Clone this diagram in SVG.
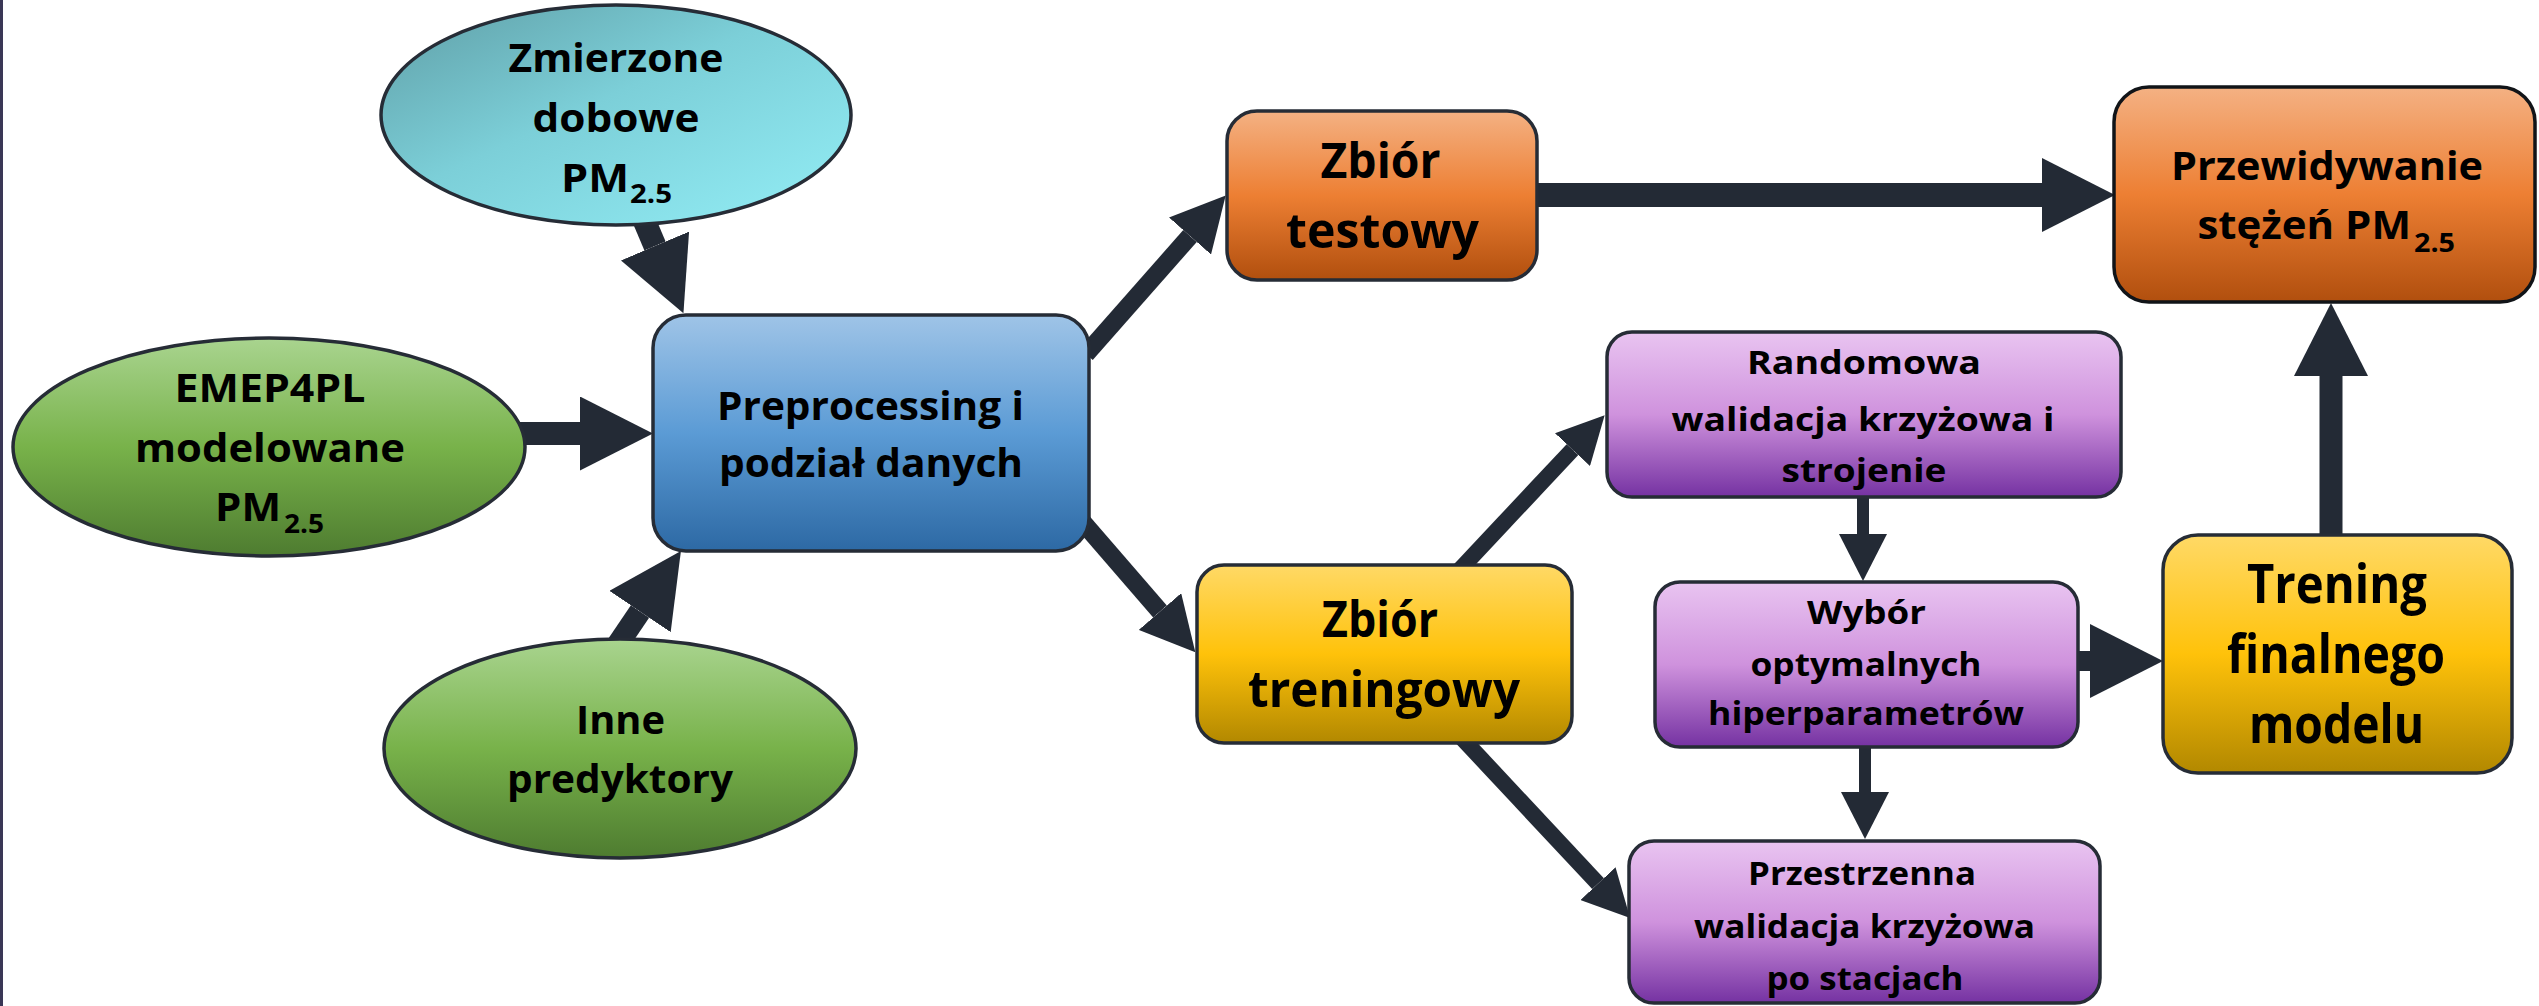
<svg xmlns="http://www.w3.org/2000/svg" width="2539" height="1006" viewBox="0 0 2539 1006">
<defs>
<style>
.t{font-family:"Open Sans","Liberation Sans",sans-serif;font-weight:700;fill:#000;text-anchor:middle}
.s{text-anchor:start}
.nd{stroke:#262c36;stroke-width:3.5}
.cn{stroke:#232a35;fill:none}
</style>
<linearGradient id="gCyan" x1="0" y1="0" x2="1" y2="1">
<stop offset="0" stop-color="#5f9ea6"/><stop offset="0.45" stop-color="#7ccfd8"/><stop offset="1" stop-color="#93eef6"/>
</linearGradient>
<linearGradient id="gGreen" x1="0" y1="0" x2="0" y2="1">
<stop offset="0" stop-color="#a9d48f"/><stop offset="0.5" stop-color="#78b24a"/><stop offset="1" stop-color="#4e7c30"/>
</linearGradient>
<linearGradient id="gBlue" x1="0" y1="0" x2="0" y2="1">
<stop offset="0" stop-color="#9fc4e7"/><stop offset="0.5" stop-color="#5b9bd5"/><stop offset="1" stop-color="#2d69a4"/>
</linearGradient>
<linearGradient id="gOrange" x1="0" y1="0" x2="0" y2="1">
<stop offset="0" stop-color="#f4b183"/><stop offset="0.5" stop-color="#ed7f33"/><stop offset="1" stop-color="#b14f0e"/>
</linearGradient>
<linearGradient id="gYellow" x1="0" y1="0" x2="0" y2="1">
<stop offset="0" stop-color="#ffd966"/><stop offset="0.5" stop-color="#ffc20a"/><stop offset="1" stop-color="#b28800"/>
</linearGradient>
<linearGradient id="gPurple" x1="0" y1="0" x2="0" y2="1">
<stop offset="0" stop-color="#e9c4f1"/><stop offset="0.5" stop-color="#cf92dd"/><stop offset="1" stop-color="#7532a2"/>
</linearGradient>
<marker id="hBig" markerUnits="userSpaceOnUse" viewBox="0 -37 73 74" markerWidth="73" markerHeight="74" refX="0" refY="0" orient="auto">
<path d="M0,-37 L73,0 L0,37 z" fill="#232a35"/>
</marker>
<marker id="hMid" markerUnits="userSpaceOnUse" viewBox="0 -28 54 56" markerWidth="54" markerHeight="56" refX="0" refY="0" orient="auto">
<path d="M0,-28 L54,0 L0,28 z" fill="#232a35"/>
</marker>
<marker id="hSmall" markerUnits="userSpaceOnUse" viewBox="0 -24 47 48" markerWidth="47" markerHeight="48" refX="0" refY="0" orient="auto">
<path d="M0,-24 L47,0 L0,24 z" fill="#232a35"/>
</marker>
</defs>
<rect x="0" y="0" width="2539" height="1006" fill="#ffffff"/>
<line x1="1.5" y1="0" x2="1.5" y2="1006" stroke="#3a3756" stroke-width="3"/>

<g id="connectors">
<line class="cn" x1="644" y1="220" x2="655" y2="246" stroke-width="23" marker-end="url(#hBig)"/>
<line class="cn" x1="518" y1="433.5" x2="580" y2="433.5" stroke-width="23" marker-end="url(#hBig)"/>
<line class="cn" x1="618" y1="644" x2="640" y2="611.5" stroke-width="22" marker-end="url(#hBig)"/>
<line class="cn" x1="1086" y1="354" x2="1190" y2="236" stroke-width="18" marker-end="url(#hMid)"/>
<line class="cn" x1="1080" y1="519" x2="1160" y2="611.5" stroke-width="18" marker-end="url(#hMid)"/>
<line class="cn" x1="1533" y1="195" x2="2042" y2="195" stroke-width="24" marker-end="url(#hBig)"/>
<line class="cn" x1="1460" y1="569.5" x2="1572.5" y2="449.6" stroke-width="16" marker-end="url(#hSmall)"/>
<line class="cn" x1="1460" y1="736" x2="1598" y2="883.6" stroke-width="16" marker-end="url(#hSmall)"/>
<line class="cn" x1="1863" y1="495" x2="1863" y2="534" stroke-width="12" marker-end="url(#hSmall)"/>
<line class="cn" x1="1865" y1="745" x2="1865" y2="792" stroke-width="12" marker-end="url(#hSmall)"/>
<line class="cn" x1="2074" y1="661" x2="2090" y2="661" stroke-width="20" marker-end="url(#hBig)"/>
<line class="cn" x1="2331" y1="538" x2="2331" y2="376" stroke-width="23" marker-end="url(#hBig)"/>
</g>

<g id="n-zmierzone">
<ellipse class="nd" cx="616" cy="115" rx="235" ry="110" fill="url(#gCyan)"/>
<text class="t" x="616" y="72" font-size="40" textLength="215" lengthAdjust="spacingAndGlyphs">Zmierzone</text>
<text class="t" x="616" y="132" font-size="40" textLength="167" lengthAdjust="spacingAndGlyphs">dobowe</text>
<text class="t s" x="561" y="192" font-size="40" textLength="68" lengthAdjust="spacingAndGlyphs">PM</text>
<text class="t s" x="630" y="203" font-size="27" textLength="42" lengthAdjust="spacingAndGlyphs">2.5</text>
</g>

<g id="n-emep">
<ellipse class="nd" cx="269" cy="447" rx="256" ry="109" fill="url(#gGreen)"/>
<text class="t" x="270" y="402" font-size="40" textLength="191" lengthAdjust="spacingAndGlyphs">EMEP4PL</text>
<text class="t" x="270" y="462" font-size="40" textLength="270" lengthAdjust="spacingAndGlyphs">modelowane</text>
<text class="t s" x="215" y="521" font-size="40" textLength="66" lengthAdjust="spacingAndGlyphs">PM</text>
<text class="t s" x="284" y="533" font-size="27" textLength="40" lengthAdjust="spacingAndGlyphs">2.5</text>
</g>

<g id="n-inne">
<ellipse class="nd" cx="620" cy="748.5" rx="236" ry="109.5" fill="url(#gGreen)"/>
<text class="t" x="620.5" y="734" font-size="40" textLength="89" lengthAdjust="spacingAndGlyphs">Inne</text>
<text class="t" x="620" y="793" font-size="40" textLength="226" lengthAdjust="spacingAndGlyphs">predyktory</text>
</g>

<g id="n-preprocessing">
<rect class="nd" x="653" y="315" width="436" height="236" rx="33" fill="url(#gBlue)"/>
<text class="t" x="870.5" y="420" font-size="40" textLength="307" lengthAdjust="spacingAndGlyphs">Preprocessing i</text>
<text class="t" x="871" y="477" font-size="40" textLength="304" lengthAdjust="spacingAndGlyphs">podział danych</text>
</g>

<g id="n-testowy">
<rect class="nd" x="1227" y="111" width="310" height="169" rx="30" fill="url(#gOrange)"/>
<text class="t" x="1380.5" y="178" font-size="49" textLength="120" lengthAdjust="spacingAndGlyphs">Zbiór</text>
<text class="t" x="1382.5" y="248" font-size="49" textLength="193" lengthAdjust="spacingAndGlyphs">testowy</text>
</g>

<g id="n-przewidywanie">
<rect x="2114" y="87" width="421" height="215" rx="35" fill="url(#gOrange)" stroke="#111418" stroke-width="3.5"/>
<text class="t" x="2327" y="180" font-size="39" textLength="312" lengthAdjust="spacingAndGlyphs">Przewidywanie</text>
<text class="t s" x="2197.5" y="239" font-size="39" textLength="213.5" lengthAdjust="spacingAndGlyphs">stężeń PM</text>
<text class="t s" x="2414" y="252" font-size="26" textLength="41" lengthAdjust="spacingAndGlyphs">2.5</text>
</g>

<g id="n-treningowy">
<rect class="nd" x="1197" y="565" width="375" height="178" rx="27" fill="url(#gYellow)"/>
<text class="t" x="1380" y="637" font-size="51" textLength="116" lengthAdjust="spacingAndGlyphs">Zbiór</text>
<text class="t" x="1384" y="707" font-size="51" textLength="272" lengthAdjust="spacingAndGlyphs">treningowy</text>
</g>

<g id="n-randomowa">
<rect class="nd" x="1607" y="332" width="514" height="165" rx="25" fill="url(#gPurple)"/>
<text class="t" x="1864" y="374" font-size="33" textLength="234" lengthAdjust="spacingAndGlyphs">Randomowa</text>
<text class="t" x="1863" y="431" font-size="33" textLength="383" lengthAdjust="spacingAndGlyphs">walidacja krzyżowa i</text>
<text class="t" x="1864" y="482" font-size="33" textLength="165" lengthAdjust="spacingAndGlyphs">strojenie</text>
</g>

<g id="n-wybor">
<rect class="nd" x="1655" y="582" width="423" height="165" rx="25" fill="url(#gPurple)"/>
<text class="t" x="1866.5" y="624" font-size="33" textLength="119" lengthAdjust="spacingAndGlyphs">Wybór</text>
<text class="t" x="1866" y="676" font-size="33" textLength="231" lengthAdjust="spacingAndGlyphs">optymalnych</text>
<text class="t" x="1866" y="725" font-size="33" textLength="316" lengthAdjust="spacingAndGlyphs">hiperparametrów</text>
</g>

<g id="n-przestrzenna">
<rect class="nd" x="1629" y="841" width="471" height="162" rx="25" fill="url(#gPurple)"/>
<text class="t" x="1862" y="885" font-size="33" textLength="228" lengthAdjust="spacingAndGlyphs">Przestrzenna</text>
<text class="t" x="1864.5" y="938" font-size="33" textLength="341" lengthAdjust="spacingAndGlyphs">walidacja krzyżowa</text>
<text class="t" x="1865" y="990" font-size="33" textLength="197" lengthAdjust="spacingAndGlyphs">po stacjach</text>
</g>

<g id="n-trening">
<rect class="nd" x="2163" y="535" width="349" height="238" rx="35" fill="url(#gYellow)"/>
<text class="t" x="2337" y="603" font-size="53" textLength="180" lengthAdjust="spacingAndGlyphs">Trening</text>
<text class="t" x="2336" y="673" font-size="53" textLength="218" lengthAdjust="spacingAndGlyphs">finalnego</text>
<text class="t" x="2336.5" y="743" font-size="53" textLength="175" lengthAdjust="spacingAndGlyphs">modelu</text>
</g>
</svg>
